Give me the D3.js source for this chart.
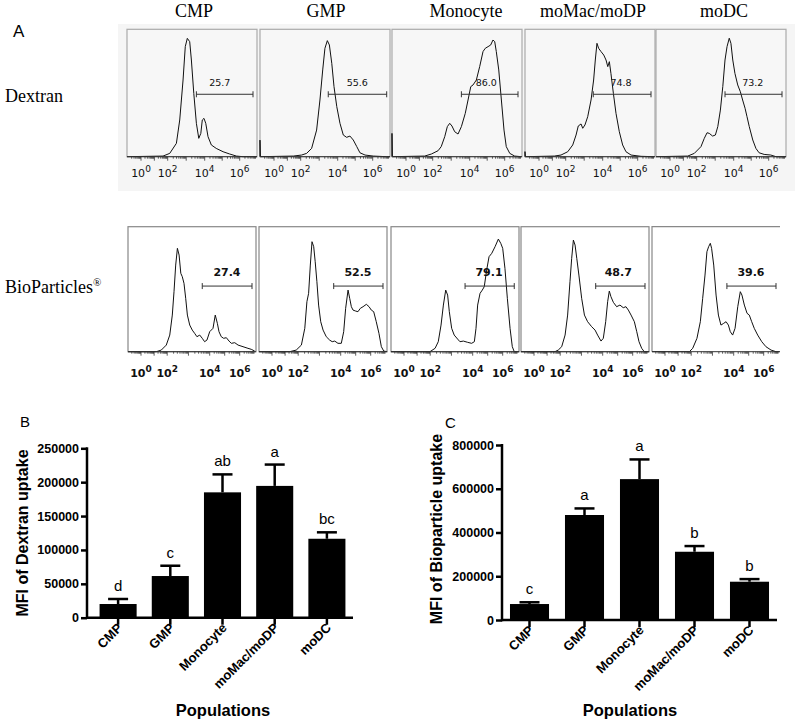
<!DOCTYPE html>
<html><head><meta charset="utf-8">
<script src="https://cdn.jsdelivr.net/npm/d3@7"></script>
<style>body{margin:0;background:#fff}</style>
</head><body>
<svg id="c" width="800" height="727"></svg>
<script>
// ---------------- DATA ----------------
const populations = ["CMP","GMP","Monocyte","moMac/moDP","moDC"];
const decadeTicks = [0,2,4,6];
// histograms: [log10 fluorescence (decades), % of panel height]
const dexCMP = [[-1.05,0],[1.65,0.5],[2.11,2.6],[2.47,10.5],[2.65,28.8],[2.83,60.2],[2.95,86.4],[3.06,92.9],[3.19,90.3],[3.28,75.9],[3.41,49.7],[3.55,26.2],[3.68,14.4],[3.79,18.3],[3.87,28.8],[3.96,30.1],[4.06,26.2],[4.19,15.7],[4.38,9.2],[4.66,6.5],[5.05,3.9],[5.43,2.1],[5.81,0.5],[6.19,0],[6.99,0]];
const dexGMP = [[-1.05,0],[-1.05,13],[-1.02,0],[1.45,0.5],[2.05,1.3],[2.32,2.6],[2.59,6.5],[2.86,20.9],[3.04,44.5],[3.19,68.1],[3.31,85.1],[3.44,91.1],[3.55,87.7],[3.68,73.3],[3.80,55],[3.95,39.3],[4.13,26.2],[4.32,17],[4.51,15.2],[4.70,16.2],[4.89,13.1],[5.09,7.9],[5.27,3.1],[5.56,1.3],[6.03,0.5],[6.8,0],[6.99,0]];
const dexMono = [[-1.05,0],[-1.05,18.3],[-1.02,0],[1.40,0.5],[1.90,2.1],[2.29,4.7],[2.46,7.9],[2.65,15.7],[2.79,23.6],[2.92,26.2],[3.04,24.1],[3.19,19.6],[3.37,17.8],[3.55,23.6],[3.76,34],[3.91,44.5],[4.06,55],[4.19,56.3],[4.38,60.2],[4.57,70.7],[4.76,82.5],[4.89,85.1],[5.05,86.4],[5.20,87.7],[5.33,91.6],[5.43,90.3],[5.52,82.5],[5.66,68.1],[5.81,44.5],[5.96,20.9],[6.09,7.9],[6.29,2.6],[6.57,0.5],[6.95,0]];
const dexMac = [[-1.05,0],[-1.05,4],[-1.02,0],[1.15,0.5],[1.65,1.3],[2.11,3.9],[2.38,9.2],[2.56,17],[2.68,24.1],[2.83,25.7],[2.92,22.3],[3.04,24.9],[3.19,31.4],[3.37,44.5],[3.51,60.2],[3.60,75.9],[3.69,89],[3.78,85.1],[3.91,82.5],[4.06,79.8],[4.19,75.9],[4.29,70.7],[4.38,74.6],[4.47,65.4],[4.61,49.7],[4.76,34],[4.95,19.6],[5.14,9.2],[5.33,3.9],[5.62,1.3],[6.19,0.3],[6.95,0]];
const dexDC = [[-1.05,0],[1.33,0.5],[1.82,2.6],[2.23,7.9],[2.41,14.4],[2.56,18.8],[2.68,18.3],[2.86,16.2],[3.01,17],[3.14,23.6],[3.28,36.6],[3.41,55],[3.53,75.9],[3.64,86.4],[3.76,93],[3.85,89],[3.95,75.9],[4.07,65.4],[4.23,56.3],[4.38,51],[4.51,44.5],[4.65,38],[4.76,31.4],[4.89,23.6],[5.09,13.1],[5.27,6.5],[5.45,3.1],[5.74,1.8],[6.12,1.3],[6.42,0],[6.99,0]];
const bioCMP = [[-0.99,0],[1.17,0],[1.55,1.3],[1.93,5.3],[2.12,13.3],[2.24,29.3],[2.32,48],[2.40,69.3],[2.48,82.7],[2.56,77.3],[2.64,62.7],[2.71,60],[2.79,54.7],[2.87,42.7],[2.95,29.3],[3.06,21.3],[3.18,17.3],[3.29,14.7],[3.40,12],[3.53,13.3],[3.65,10.7],[3.76,8],[3.87,9.3],[4.0,16],[4.22,18.7],[4.37,29.3],[4.51,22.7],[4.62,16],[4.77,12],[4.93,10.7],[5.11,11.2],[5.29,8.5],[5.44,6.7],[5.67,7.2],[5.89,5.3],[6.22,4],[6.55,2.7],[6.77,1.9],[7.0,0.5]];
const bioGMP = [[-0.99,0],[1.35,0],[1.85,1.3],[2.15,5.3],[2.31,18.7],[2.41,40],[2.49,46.7],[2.57,69.3],[2.65,88],[2.73,84],[2.80,72],[2.88,56],[2.96,37.3],[3.06,24],[3.17,17.3],[3.32,12],[3.48,9.3],[3.60,8],[3.72,8.5],[3.87,6.7],[4.04,6.7],[4.2,16],[4.33,34.7],[4.49,49.3],[4.6,42.7],[4.71,36],[4.82,33.3],[5.0,32.5],[5.15,32],[5.31,34.7],[5.49,36],[5.71,37.9],[5.89,36],[6.04,33.3],[6.20,32],[6.37,24],[6.55,14.7],[6.71,4],[6.87,0.5],[7.1,0]];
const bioMono = [[-0.99,0],[1.98,0],[2.23,2.7],[2.38,8],[2.51,21.3],[2.62,37.3],[2.73,49.3],[2.82,45.3],[2.90,32],[3.01,18.7],[3.13,13.3],[3.29,10.1],[3.40,8],[3.56,8.5],[3.76,7.5],[3.95,6.7],[4.11,8],[4.22,18.7],[4.33,37.3],[4.49,46.7],[4.64,49.3],[4.77,52],[4.93,65.3],[5.09,76],[5.27,78.7],[5.49,84],[5.71,90.1],[5.87,86.7],[6.0,82.7],[6.15,66.7],[6.31,42.7],[6.49,18.7],[6.64,4],[6.77,0],[7.1,0]];
const bioMac = [[-0.99,0],[1.60,0],[1.85,1.3],[2.07,4],[2.23,13.3],[2.35,29.3],[2.46,56],[2.54,74.7],[2.62,89.3],[2.70,85.3],[2.78,74.7],[2.88,61.3],[3.01,42.7],[3.14,29.3],[3.29,24],[3.48,20],[3.64,17.3],[3.76,13.3],[3.92,8.5],[4.04,10.7],[4.2,24],[4.33,40],[4.44,48.5],[4.55,44],[4.71,39.5],[4.93,36],[5.15,37.3],[5.37,35.2],[5.55,36],[5.71,33.3],[5.89,29.3],[6.11,24],[6.27,16],[6.42,8],[6.60,2.7],[6.77,0],[7.1,0]];
const bioDC = [[-0.99,0],[1.86,0],[2.07,2.7],[2.27,10.7],[2.43,24],[2.54,42.7],[2.65,61.3],[2.74,80],[2.82,84],[2.90,86.7],[2.96,82.7],[3.06,69.3],[3.17,45.3],[3.28,29.3],[3.40,21.3],[3.53,22.7],[3.64,24],[3.75,21.3],[3.84,16],[3.95,13.3],[4.09,18.7],[4.27,36],[4.44,48],[4.55,45.3],[4.71,37.3],[4.89,30.7],[5.04,29.3],[5.2,24],[5.37,18.7],[5.6,13.3],[5.87,8],[6.15,4],[6.49,1.3],[6.82,0],[7.05,0]];
// gates (decades) and percentages
const dexGates = [[3.55,6.76],[3.49,6.8],[3.55,6.76],[3.49,6.76],[3.53,6.76]];
const dexPct = ["25.7","55.6","86.0","74.8","73.2"];
const dexPctX = [4.86,5.12,4.95,5.05,5.09];
const bioGates = [[3.65,6.82],[3.67,6.82],[3.64,6.77],[3.67,6.82],[3.68,6.82]];
const bioPct = ["27.4","52.5","79.1","48.7","39.6"];
const bioPctX = [5.15,5.15,5.09,5.04,5.15];
// bar charts
const dexMFI = [20200, 61500, 185000, 194500, 116500];
const dexSEM = [7400, 15200, 26500, 31500, 9500];
const dexLetters = ["d","c","ab","a","bc"];
const dexTicks = [0,50000,100000,150000,200000,250000];
const bioMFI = [73000, 480000, 644000, 312000, 175000];
const bioSEM = [8000, 30000, 90000, 26000, 12000];
const bioLetters = ["c","a","a","b","b"];
const bioTicks = [0,200000,400000,600000,800000];

// ---------------- DRAW ----------------
const svg = d3.select("#c");
const serif = "'Liberation Serif','Times New Roman',serif";
const sans = "'Liberation Sans',Arial,sans-serif";
const dv = "'DejaVu Sans',Verdana,sans-serif";

svg.append("rect").attr("x",118).attr("y",24).attr("width",677).attr("height",167).attr("fill","#f5f5f5");

svg.append("text").attr("x",13).attr("y",37).attr("font-family",sans).attr("font-size",17).text("A");
const titleX = [194, 326, 466, 593, 724];
populations.forEach((p,i)=>{
  svg.append("text").attr("x",titleX[i]).attr("y",17).attr("text-anchor","middle")
    .attr("font-family",serif).attr("font-size",18).text(p);
});
svg.append("text").attr("x",5).attr("y",102).attr("font-family",serif).attr("font-size",18).text("Dextran");
const bp = svg.append("text").attr("x",5).attr("y",293).attr("font-family",serif).attr("font-size",18);
bp.append("tspan").text("BioParticles");
bp.append("tspan").attr("dy",-7).attr("font-size",11).text("®");

function histRow(cfg){
  cfg.lefts.forEach((L,i)=>{
    const W = cfg.width;
    const x = d3.scaleLinear().domain(decadeTicks).range(cfg.tickPos.map(p=>L+p));
    const y = d3.scaleLinear().domain([0,100]).range([cfg.bottom, cfg.top]);
    const g = svg.append("g");
    if (cfg.noRight && i===cfg.lefts.length-1){
      g.append("rect").attr("x",L).attr("y",cfg.top).attr("width",W).attr("height",cfg.bottom-cfg.top).attr("fill",cfg.fill);
      g.append("path").attr("d",`M${L+W},${cfg.top}H${L}V${cfg.bottom}`).attr("fill","none").attr("stroke",cfg.frame).attr("stroke-width",1.2);
    } else {
      g.append("rect").attr("x",L).attr("y",cfg.top).attr("width",W).attr("height",cfg.bottom-cfg.top)
        .attr("fill",cfg.fill).attr("stroke",cfg.frame).attr("stroke-width",1.2);
    }
    g.append("path").datum(cfg.hists[i])
      .attr("d", d3.line().x(d=>x(d[0])).y(d=>y(d[1])))
      .attr("fill","none").attr("stroke","#111").attr("stroke-width",1);
    g.append("line").attr("x1",L).attr("x2",L+W).attr("y1",cfg.bottom).attr("y2",cfg.bottom).attr("stroke","#333").attr("stroke-width",1);
    const tv = [];
    for (let n=-1;n<=6;n++) for (let k=1;k<=9;k++){ const v=n+Math.log10(k); const px=x(v); if(px>=L+1 && px<=L+W-1) tv.push({v,k}); }
    g.selectAll(null).data(tv).join("line")
      .attr("x1",d=>x(d.v)).attr("x2",d=>x(d.v)).attr("y1",cfg.bottom).attr("y2",d=>cfg.bottom+(d.k===1?4:2))
      .attr("stroke","#333").attr("stroke-width",0.8);
    decadeTicks.forEach(t=>{
      const tx = g.append("text").attr("x",x(t)).attr("y",cfg.labelBase).attr("text-anchor","middle")
        .attr("font-family",dv).attr("font-size",cfg.tickFont).attr("font-weight",cfg.weight).attr("fill","#111");
      tx.append("tspan").text("10");
      tx.append("tspan").attr("dy",-5).attr("font-size",cfg.supFont).text(t);
    });
    const [a,b] = cfg.gates[i];
    const gy = y(cfg.gateY);
    g.append("line").attr("x1",x(a)).attr("x2",x(b)).attr("y1",gy).attr("y2",gy).attr("stroke","#333").attr("stroke-width",1);
    [a,b].forEach(v=>g.append("line").attr("x1",x(v)).attr("x2",x(v)).attr("y1",gy-3).attr("y2",gy+3).attr("stroke","#333").attr("stroke-width",1));
    g.append("text").attr("x",x(cfg.pctX[i])).attr("y",y(cfg.pctY)).attr("text-anchor","middle")
      .attr("font-family",dv).attr("font-size",cfg.pctFont).attr("font-weight",cfg.weight).attr("fill","#111").text(cfg.pct[i]);
  });
}

histRow({lefts:[127,260,392,525,656], width:130, top:29.3, bottom:156.7, tickPos:[14,40.7,77.7,112.7],
  hists:[dexCMP,dexGMP,dexMono,dexMac,dexDC], gates:dexGates, gateY:49, pct:dexPct, pctX:dexPctX, pctY:55.5,
  fill:"#f7f7f7", frame:"#aaa", labelBase:177, tickFont:11, supFont:9, weight:"normal", pctFont:9.5});
histRow({lefts:[128,259,391,521,652], width:128, top:226.7, bottom:351.7, tickPos:[13,39.2,81.7,111.7],
  hists:[bioCMP,bioGMP,bioMono,bioMac,bioDC], gates:bioGates, gateY:52.5, pct:bioPct, pctX:bioPctX, pctY:60.8,
  fill:"#fff", frame:"#888", labelBase:377, tickFont:11, supFont:9, weight:"bold", pctFont:11, noRight:true});

function barChart(cfg){
  const g = svg.append("g");
  const x = d3.scaleBand().domain(populations).range([cfg.x0, cfg.x1]).paddingInner(0.29).paddingOuter(0.145);
  const y = d3.scaleLinear().domain([0, cfg.ymax]).range([cfg.y0, cfg.y1]);
  g.selectAll(null).data(cfg.mfi).join("rect")
    .attr("x",(d,i)=>x(populations[i])).attr("width",x.bandwidth())
    .attr("y",d=>y(d)).attr("height",d=>y(0)-y(d)).attr("fill","#000");
  cfg.mfi.forEach((m,i)=>{
    const cx = x(populations[i])+x.bandwidth()/2;
    const top = y(m+cfg.sem[i]);
    g.append("line").attr("x1",cx).attr("x2",cx).attr("y1",y(m)).attr("y2",top).attr("stroke","#000").attr("stroke-width",2.5);
    g.append("line").attr("x1",cx-10).attr("x2",cx+10).attr("y1",top).attr("y2",top).attr("stroke","#000").attr("stroke-width",2.5);
    g.append("text").attr("x",cx).attr("y",top-8).attr("text-anchor","middle").attr("font-family",sans).attr("font-size",15).text(cfg.letters[i]);
  });
  const ya = d3.axisLeft(y).tickValues(cfg.ticks).tickFormat(d3.format("d")).tickSize(6).tickPadding(2).tickSizeOuter(0);
  const yg = g.append("g").attr("transform",`translate(${cfg.ax},0)`).call(ya);
  yg.select(".domain").remove();
  yg.selectAll(".tick line").attr("stroke-width",2.5);
  yg.selectAll("text").attr("font-family",sans).attr("font-size",12.5).attr("font-weight","bold").attr("fill","#000");
  g.append("line").attr("x1",cfg.ax).attr("x2",cfg.ax).attr("y1",cfg.y0+1.25).attr("y2",cfg.y1-1).attr("stroke","#000").attr("stroke-width",2.5);
  g.append("line").attr("x1",cfg.ax).attr("x2",cfg.x1).attr("y1",cfg.y0).attr("y2",cfg.y0).attr("stroke","#000").attr("stroke-width",2.5);
  populations.forEach(p=>{
    const cx = x(p)+x.bandwidth()/2;
    g.append("line").attr("x1",cx).attr("x2",cx).attr("y1",cfg.y0).attr("y2",cfg.y0+7).attr("stroke","#000").attr("stroke-width",2.5);
    g.append("text").attr("transform",`translate(${cx+5},${cfg.y0+11}) rotate(-45)`).attr("text-anchor","end")
      .attr("font-family",sans).attr("font-size",13).attr("font-weight","bold").text(p);
  });
  g.append("text").attr("transform",`translate(${cfg.titleX},${cfg.titleY}) rotate(-90)`).attr("text-anchor","middle")
    .attr("font-family",sans).attr("font-size",16).attr("font-weight","bold").text(cfg.title);
  g.append("text").attr("x",cfg.popX).attr("y",716).attr("text-anchor","middle")
    .attr("font-family",sans).attr("font-size",16.5).attr("font-weight","bold").text("Populations");
  g.append("text").attr("x",cfg.panelX).attr("y",cfg.panelY).attr("font-family",sans).attr("font-size",15).text(cfg.panel);
}

barChart({x0:92, x1:353, ax:87, y0:617.7, y1:448.3, ymax:250000, mfi:dexMFI, sem:dexSEM, letters:dexLetters, ticks:dexTicks,
  title:"MFI of Dextran uptake", titleX:28, titleY:533, popX:223, panel:"B", panelX:20, panelY:427});
barChart({x0:502, x1:777, ax:502, y0:620, y1:445, ymax:800000, mfi:bioMFI, sem:bioSEM, letters:bioLetters, ticks:bioTicks,
  title:"MFI of Bioparticle uptake", titleX:442, titleY:529, popX:630, panel:"C", panelX:445, panelY:428});
</script>
</body></html>
